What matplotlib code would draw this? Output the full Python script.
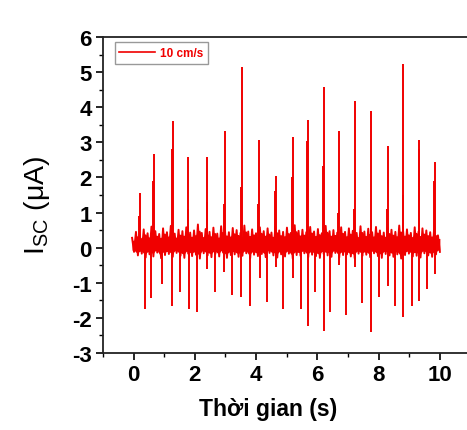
import numpy as np
import matplotlib
matplotlib.use("Agg")
import matplotlib.pyplot as plt

plt.rcParams['font.family'] = ['Liberation Sans', 'DejaVu Sans']
plt.rcParams['mathtext.fontset'] = 'custom'
plt.rcParams['mathtext.rm'] = 'Liberation Sans'
plt.rcParams['mathtext.it'] = 'Liberation Sans'
plt.rcParams['axes.unicode_minus'] = False

# ---- data ----
series_label = "10 cm/s"
x_ticks = [0, 2, 4, 6, 8, 10]
y_ticks = [-3, -2, -1, 0, 1, 2, 3, 4, 5, 6]

# main positive spikes
pos_t = [0.20, 0.67, 1.28, 1.79, 2.41, 2.99, 3.54, 4.10, 4.65, 5.19,
         5.70, 6.20, 6.70, 7.23, 7.76, 8.29, 8.81, 9.33, 9.84]
pos_v = [1.55, 2.67, 3.62, 2.59, 2.57, 3.31, 5.15, 3.07, 2.03, 3.14,
         3.64, 4.58, 3.31, 4.19, 3.88, 2.90, 5.23, 3.07, 2.43]
# shoulder spikes just before the main ones
shoulder_v = [0.90, 1.90, 2.80, 1.10, 1.30, 1.24, 1.72, 1.24, 1.60, 2.00,
              3.05, 2.33, 1.00, 1.10, 0.80, 1.10, 1.50, 2.80, 1.90]

# negative spikes
neg_t = [0.38, 0.58, 0.92, 1.25, 1.50, 1.81, 2.08, 2.38, 2.66, 2.95,
         3.22, 3.52, 3.79, 4.12, 4.35, 4.65, 4.89, 5.19, 5.45, 5.70,
         5.92, 6.20, 6.42, 6.70, 6.95, 7.23, 7.46, 7.76, 8.02, 8.29,
         8.54, 8.81, 9.08, 9.33, 9.57, 9.84]
neg_v = [-1.75, -1.42, -1.04, -1.65, -1.27, -1.75, -1.82, -0.60, -1.25, -0.70,
         -1.34, -1.40, -1.65, -0.85, -1.56, -0.56, -1.75, -0.85, -1.75, -2.22,
         -1.27, -2.38, -1.82, -0.50, -1.91, -0.55, -1.58, -2.41, -1.40, -1.10,
         -1.65, -1.97, -1.65, -1.51, -1.18, -0.75]

# baseline noise: upper and lower excursions read across the trace
noise_hi = [0.28, 0.45, 0.38, 0.52, 0.41, 0.60, 0.47, 0.39, 0.55, 0.44,
            0.62, 0.40, 0.51, 0.47, 0.58, 0.43, 0.49, 0.66, 0.42, 0.53,
            0.45, 0.57, 0.40, 0.61, 0.48, 0.44, 0.56, 0.50, 0.42, 0.63,
            0.46, 0.52, 0.41, 0.58, 0.47, 0.55, 0.43, 0.60, 0.49, 0.45,
            0.57, 0.42, 0.64, 0.48, 0.51, 0.44, 0.59, 0.46, 0.53, 0.41,
            0.62, 0.47, 0.50, 0.43, 0.58, 0.45, 0.55, 0.48, 0.42, 0.61,
            0.46, 0.54, 0.44, 0.59, 0.49, 0.43, 0.57, 0.51, 0.45, 0.63,
            0.47, 0.52, 0.42, 0.58, 0.46, 0.55, 0.49, 0.44, 0.50, 0.35]
noise_lo = [-0.12, -0.22, -0.17, -0.28, -0.19, -0.25, -0.14, -0.30, -0.21, -0.18,
            -0.26, -0.15, -0.23, -0.29, -0.17, -0.24, -0.20, -0.31, -0.16, -0.22,
            -0.27, -0.18, -0.25, -0.14, -0.29, -0.21, -0.19, -0.26, -0.23, -0.16,
            -0.30, -0.20, -0.24, -0.18, -0.27, -0.15, -0.22, -0.28, -0.19, -0.25,
            -0.17, -0.31, -0.21, -0.23, -0.16, -0.27, -0.20, -0.24, -0.29, -0.18,
            -0.22, -0.26, -0.15, -0.28, -0.21, -0.19, -0.25, -0.30, -0.17, -0.23,
            -0.20, -0.27, -0.16, -0.24, -0.29, -0.18, -0.22, -0.26, -0.19, -0.31,
            -0.21, -0.17, -0.25, -0.23, -0.28, -0.16, -0.22, -0.26, -0.19, -0.12]
noise_start, noise_end = -0.05, 10.0

color = '#f00000'

fig = plt.figure(figsize=(4.67, 4.31), dpi=100)
ax = fig.add_axes([103/467, 1-354/431, 367.5/467, 316/431])

# noise trace alternates between read upper and lower excursions
n = len(noise_hi)
noise_t = np.linspace(noise_start, noise_end, 2 * n)
noise_v = np.empty(2 * n)
noise_v[0::2] = noise_hi
noise_v[1::2] = noise_lo
ax.fill_between(noise_t, np.array(noise_lo).repeat(2) * 0.6,
                np.array(noise_hi).repeat(2) * 0.75, color=color, lw=0)
ax.plot(noise_t, noise_v, color=color, lw=1.4)

ax.vlines(np.array(pos_t) - 0.025, 0.1, shoulder_v, color=color, lw=1.4)
ax.vlines(pos_t, 0.1, pos_v, color=color, lw=1.4)
ax.vlines(neg_t, 0.1, neg_v, color=color, lw=1.4)
ax.plot([], [], color=color, lw=1.2, label=series_label)

ax.set_xlim(-1, 11)
ax.set_ylim(-3, 6)
ax.set_xticks(x_ticks)
ax.set_yticks(y_ticks)
ax.set_xticks(np.arange(-1, 11.5, 1), minor=True)
ax.set_yticks(np.arange(-3, 6.01, 0.5), minor=True)
ax.tick_params(which='major', direction='out', length=5, width=1.2,
               labelsize=16, pad=3)
ax.tick_params(which='minor', direction='out', length=3, width=1.0)
for lab in ax.get_xticklabels() + ax.get_yticklabels():
    lab.set_fontweight('bold')
for s in ax.spines.values():
    s.set_linewidth(1.3)
    s.set_color('#222222')

ax.set_xlabel('Thời gian (s)', fontsize=16.5, fontweight='bold')
ax.xaxis.set_label_coords((268.5-103)/367.5, -0.14)
ax.set_ylabel(r'I$_{\mathrm{SC}}$ (μA)', fontsize=20.5)
ax.yaxis.set_label_coords(-0.14, 0.47)

leg = ax.legend(loc='upper left', bbox_to_anchor=(0.032, 0.983), fontsize=8.5,
                handlelength=3.0, handletextpad=0.4, borderpad=0.4,
                fancybox=False, framealpha=1, edgecolor='#999999',
                borderaxespad=0)
leg.get_frame().set_linewidth(1.0)
for t in leg.get_texts():
    t.set_fontweight('bold')
    t.set_color(color)

fig.savefig('out.png', dpi=100)
